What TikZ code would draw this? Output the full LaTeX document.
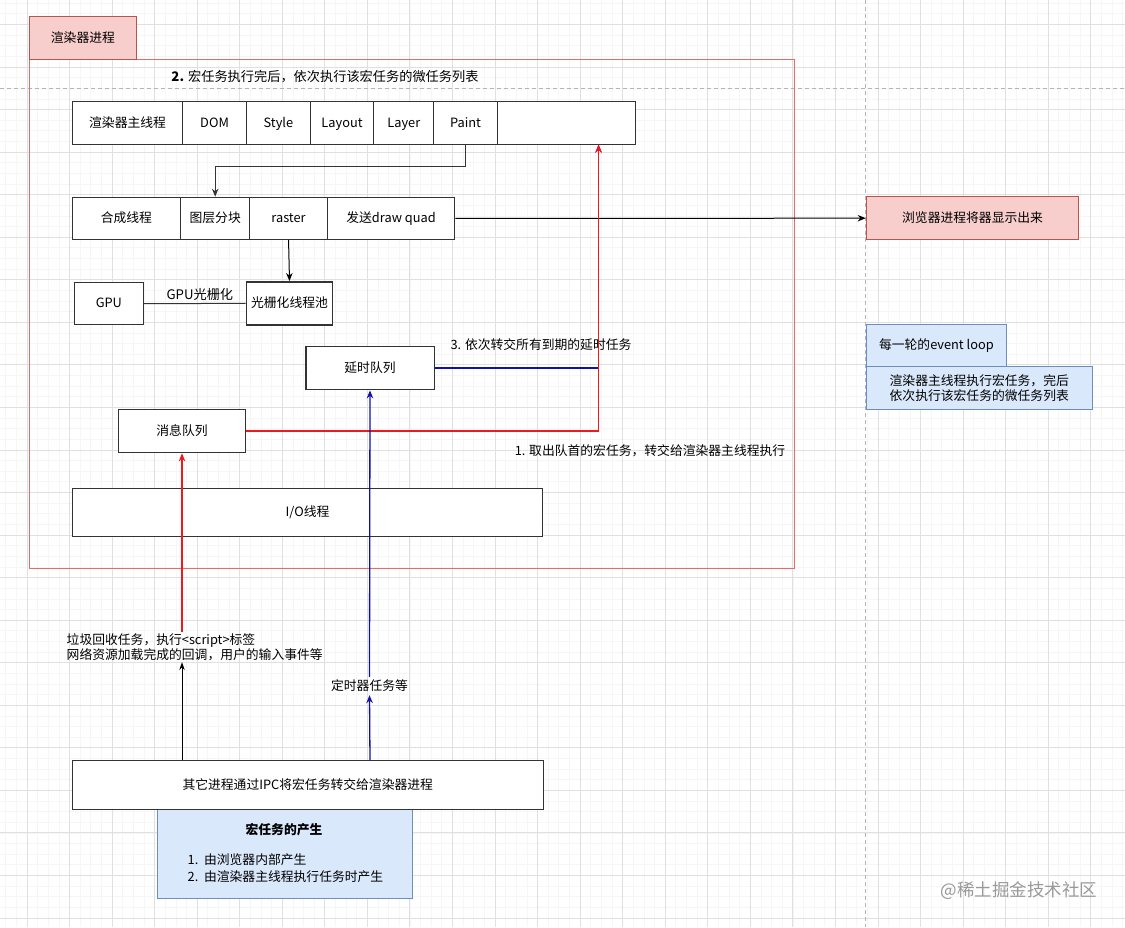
\documentclass[tikz,border=0pt]{standalone}
\usepackage{fontspec}
\setmainfont{Noto Sans CJK SC}
\usetikzlibrary{arrows.meta}
\definecolor{boxline}{HTML}{333333}
\definecolor{pinkfill}{HTML}{F8CECC}
\definecolor{pinkline}{HTML}{B85450}
\definecolor{contline}{HTML}{EA6B66}
\definecolor{bluefill}{HTML}{DAE8FC}
\definecolor{blueline}{HTML}{6C8EBF}
\definecolor{arrred}{HTML}{F01818}
\definecolor{arrblue}{HTML}{1010B0}
\definecolor{gridmajor}{HTML}{E0E0E0}
\definecolor{gridminor}{HTML}{F6F6F6}
\definecolor{pagebreak}{HTML}{B4B4B4}
\tikzset{
  base/.style={draw=boxline, fill=white, line width=1.1pt, inner sep=0pt, anchor=north west, font=\fontsize{12.8}{14.5}\selectfont},
  cell/.style={base, text height=10.5pt, text depth=2pt},
  pinkbox/.style={cell, draw=pinkline, fill=pinkfill},
  bluebox/.style={cell, draw=blueline, fill=bluefill},
  bluebase/.style={base, draw=blueline, fill=bluefill},
  txt/.style={inner sep=1pt, font=\fontsize{12.8}{14.5}\selectfont},
  arr/.style={line width=1pt, -{Stealth[length=8pt,width=6.5pt]}},
  redarr/.style={arr, color=arrred, line width=1.4pt},
  bluearr/.style={arr, color=arrblue, line width=1.3pt},
}
\begin{document}
\begin{tikzpicture}[x=1pt,y=-1pt]
\useasboundingbox (0,0) rectangle (1125,927);
\fill[white] (0,0) rectangle (1125,927);
% grid
\begin{scope}
\clip (0,0) rectangle (1125,927);
\foreach \i in {0,...,106} \draw[gridminor, line width=0.8pt] ({5.72+10.6375*\i},0) -- ++(0,927);
\foreach \i in {0,...,88} \draw[gridminor, line width=0.8pt] (0,{3.2+10.6375*\i}) -- ++(1125,0);
\foreach \i in {0,...,26} \draw[gridmajor, line width=1pt] ({27+42.55*\i},0) -- ++(0,927);
\foreach \i in {0,...,22} \draw[gridmajor, line width=1pt] (0,{24.5+42.55*\i}) -- ++(1125,0);
\draw[pagebreak, line width=1pt, dash pattern=on 4pt off 3pt] (0,88.3) -- (1125,88.3);
\draw[pagebreak, line width=1pt, dash pattern=on 4pt off 3pt] (865.7,0) -- (865.7,927);
\end{scope}

% renderer process container
\node[pinkbox, draw=contline, fill=none, minimum width=765pt, minimum height=509.3pt] (cont) at (29,58.7) {};
\node[pinkbox, minimum width=106.7pt, minimum height=42.7pt] (tab) at (29,16) {渲染器进程};

\node[txt, font=\fontsize{13.2}{15}\selectfont] (note2) at (325,77) {\textbf{2.} 宏任务执行完后，依次执行该宏任务的微任务列表};

% main thread row
\node[cell, minimum width=110pt, minimum height=42.5pt] (mt) at (72,101) {渲染器主线程};
\node[cell, minimum width=64pt, minimum height=42.5pt] (dom) at (182,101) {DOM};
\node[cell, minimum width=63.7pt, minimum height=42.5pt] (sty) at (246,101) {Style};
\node[cell, minimum width=63.6pt, minimum height=42.5pt] (lay) at (309.7,101) {Layout};
\node[cell, minimum width=60pt, minimum height=42.5pt] (lyr) at (373.3,101) {Layer};
\node[cell, minimum width=63.4pt, minimum height=42.5pt] (paint) at (433.3,101) {Paint};
\node[cell, minimum width=138.6pt, minimum height=42.5pt] (empty) at (496.7,101) {};

% compositor row
\node[cell, minimum width=108.3pt, minimum height=42.3pt] (comp) at (71.7,196.7) {合成线程};
\node[cell, minimum width=69.3pt, minimum height=42.3pt] (tile) at (180,196.7) {图层分块};
\node[cell, minimum width=77.4pt, minimum height=42.3pt] (raster) at (249.3,196.7) {raster};
\node[cell, minimum width=127.6pt, minimum height=42.3pt] (quad) at (326.7,196.7) {发送draw quad};

\node[pinkbox, minimum width=212.6pt, minimum height=43.3pt] (browser) at (865.7,196) {浏览器进程将器显示出来};

\node[cell, minimum width=69.3pt, minimum height=42.6pt] (gpu) at (73.7,281.7) {GPU};
\node[cell, line width=1.6pt, minimum width=86pt, minimum height=43.3pt] (pool) at (245.7,281) {光栅化线程池};

\node[cell, minimum width=128.1pt, minimum height=43.6pt] (delay) at (305.4,345.7) {延时队列};
\node[cell, minimum width=127.7pt, minimum height=43.4pt] (msg) at (117.6,408.8) {消息队列};
\node[cell, minimum width=470pt, minimum height=48pt] (io) at (72,488) {I/O线程};

% event loop legend
\node[bluebox, minimum width=140.3pt, minimum height=41.4pt] (evtab) at (865.7,324.3) {每一轮的event loop};
\node[bluebase, minimum width=226pt, minimum height=43.3pt, align=center] (evbody) at (865.7,365.7) {渲染器主线程执行宏任务，完后\\依次执行该宏任务的微任务列表};

% macro task origin
\node[bluebox, minimum width=255pt, minimum height=88.7pt] (macro) at (156.7,809) {};
\node[cell, minimum width=471pt, minimum height=49pt] (ipc) at (71.7,760) {其它进程通过IPC将宏任务转交给渲染器进程};
\node[txt] (mtitle) at (284,830) {\textbf{宏任务的产生}};
\node[txt, anchor=west] (m1) at (186.5,859.3) {1.\ \ 由浏览器内部产生};
\node[txt, anchor=west] (m2) at (186.5,876.7) {2.\ \ 由渲染器主线程执行任务时产生};

% connectors
\draw[arr, boxline, line width=1.2pt] (paint.south) -- ++(0,21.7) -| (tile.north);
\draw[arr, black] (quad.east) -- (browser.west);
\draw[arr, black] (raster.south) -- (pool.north);
\draw[line width=1pt, boxline] (gpu.east) -- node[txt, above=1pt, text=black, font=\fontsize{13.2}{15}\selectfont, xshift=5pt] (gpulbl) {GPU光栅化} (pool.west);

\draw[bluearr] (delay.east) -| ([xshift=32pt]empty.south);
\draw[redarr] (msg.east) -| ([xshift=32pt]empty.south);
\node[txt] (note3) at (541,345) {3. 依次转交所有到期的延时任务};
\node[txt] (note1) at (650,451) {1. 取出队首的宏任务，转交给渲染器主线程执行};

\node[txt, anchor=north west, align=left, inner ysep=1.5pt] (lbl1) at (65.5,632) {垃圾回收任务，执行<script>标签\\网络资源加载完成的回调，用户的输入事件等};
\draw[line width=1pt, black, -{Stealth[length=8pt,width=5.5pt]}] (msg.south |- ipc.north) -- (msg.south |- lbl1.south);
\draw[redarr] (msg.south |- lbl1.north) -- (msg.south);

\node[txt, inner ysep=3pt] (lbl2) at (369.5,686) {定时器任务等};
\draw[bluearr] (delay.south |- ipc.north) -- (lbl2.south);
\draw[bluearr] (lbl2.north) -- (delay.south);

\node[txt, text=black!40, font=\fontsize{17.5}{20}\selectfont] (wm) at (1019,891) {@稀土掘金技术社区};
\end{tikzpicture}
\end{document}
